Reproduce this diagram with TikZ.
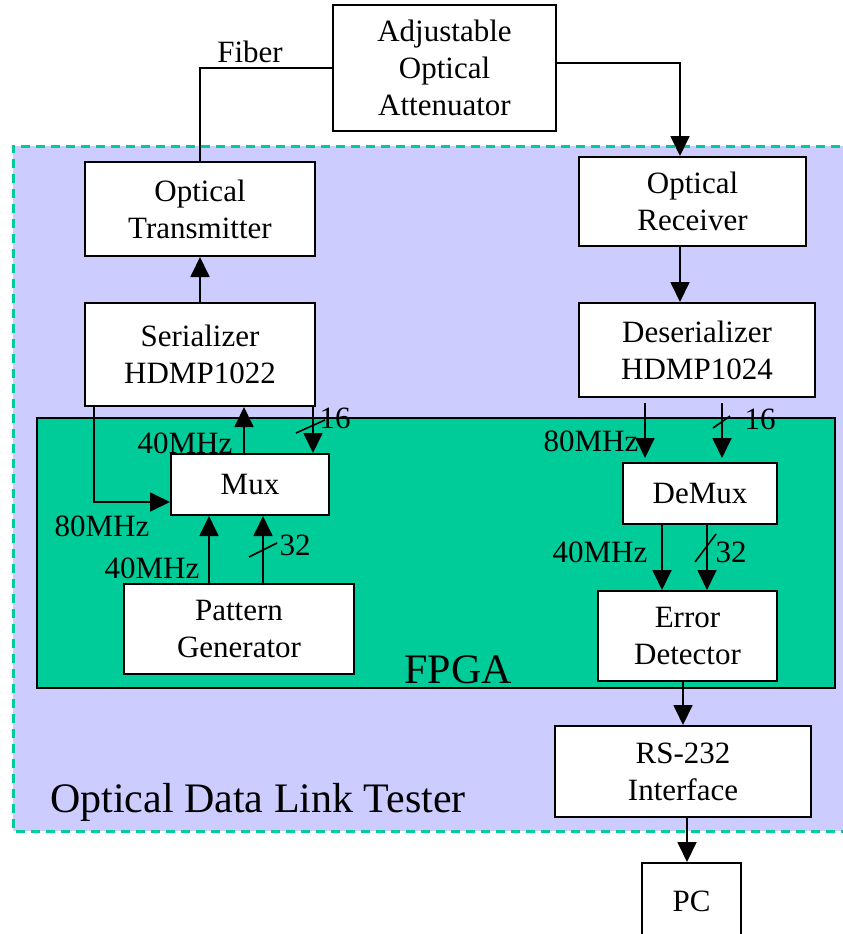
\documentclass[tikz,border=0pt]{standalone}
\usepackage{fontspec}
\setmainfont{Liberation Serif}
\usetikzlibrary{arrows.meta,calc}
\definecolor{lav}{HTML}{CCCCFF}
\definecolor{tealg}{HTML}{00CC99}
\begin{document}
\begin{tikzpicture}[x=1pt,y=-1pt,
 box/.style={draw=black,line width=2pt,fill=white,align=center,inner sep=0pt,font=\fontsize{31}{37}\selectfont},
 lbl/.style={inner sep=0pt,font=\fontsize{31}{37}\selectfont,anchor=base},
 con/.style={line width=1.8pt},
 arr/.style={con,-{Triangle[length=20pt,width=19pt]}},
 slash/.style={line width=1.6pt}
]
\useasboundingbox (0,0) rectangle (843,934);
\clip (0,0) rectangle (843,934);
% tester region
\fill[lav] (13,146) rectangle (870,831);
\draw[tealg,line width=3pt,dash pattern=on 9pt off 6pt] (870,146) -- (13,146) -- (13,831) -- (870,831);
% FPGA
\node[draw=black,line width=2pt,fill=tealg,minimum width=798,minimum height=270,inner sep=0pt] (fpga) at (436,553) {};
% boxes
\node[box,minimum width=223,minimum height=126] (att) at (444.5,68) {Adjustable\\Optical\\Attenuator};
\node[box,minimum width=230,minimum height=94] (tx) at (200,209) {Optical\\Transmitter};
\node[box,minimum width=230,minimum height=103] (ser) at (200,354.5) {Serializer\\HDMP1022};
\node[box,minimum width=227,minimum height=89] (rx) at (692.5,201.5) {Optical\\Receiver};
\node[box,minimum width=236,minimum height=94] (des) at (697,350) {Deserializer\\HDMP1024};
\node[box,minimum width=158,minimum height=61] (mux) at (250,484.5) {Mux};
\node[box,minimum width=230,minimum height=90] (pg) at (239,629) {Pattern\\Generator};
\node[box,minimum width=154,minimum height=61] (demux) at (700,493.5) {DeMux};
\node[box,minimum width=179,minimum height=90] (ed) at (687.5,636) {Error\\Detector};
\node[box,minimum width=256,minimum height=91] (rs) at (683,771.5) {RS-232\\Interface};
\node[box,minimum width=99,minimum height=84] (pc) at (691.5,905) {\raisebox{8pt}{PC}};
% connectors
\draw[con] (att.west) -| (tx.north);
\draw[arr] ($(att.east)+(0,-5)$) -| ($(rx.north)+(-12.5,0)$);
\draw[arr] ($(rx.south)+(-12.5,0)$) -- ($(des.north)+(-17,0)$);
\draw[arr] (ser.north) -- (tx.south);
\draw[arr] ($(ser.south west)+(10,0)$) |- ($(mux.west)+(0,17.5)$);
\draw[arr] ($(mux.north)+(-6,0)$) -- ($(ser.south)+(44,0)$);
\draw[arr] ($(ser.south)+(113,0)$) -- ($(mux.north)+(63,0)$);
\draw[arr] ($(pg.north)+(-30,0)$) -- ($(mux.south)+(-41,0)$);
\draw[arr] ($(pg.north)+(24,0)$) -- ($(mux.south)+(13,0)$);
\draw[arr] ($(des.south)+(-52,5)$) -- ($(demux.north)+(-55,-4)$);
\draw[arr] ($(des.south)+(25,5)$) -- ($(demux.north)+(22,-4)$);
\draw[arr] ($(demux.south)+(-38,0)$) -- ($(ed.north)+(-25.5,0)$);
\draw[arr] ($(demux.south)+(7,0)$) -- ($(ed.north)+(19.5,0)$);
\draw[arr] ($(ed.south)+(-4.5,0)$) -- (rs.north);
\draw[arr] ($(rs.south)+(4,0)$) -- ($(pc.north)+(-4.5,0)$);
% bus slashes
\draw[slash] (296,433) -- (325,420);
\draw[slash] (249,557) -- (277,543);
\draw[slash] (713,428) -- (730,416);
\draw[slash] (695,562) -- (716,534);
% labels
\node[lbl] (fiber) at (250,63) {Fiber};
\node[lbl] (f80l) at (102,536) {80MHz};
\node[lbl] (f40t) at (185,453) {40MHz};
\node[lbl] (n16l) at (335,428) {16};
\node[lbl] (f40b) at (152,578) {40MHz};
\node[lbl] (n32l) at (295,555) {32};
\node[lbl] (f80r) at (591,451) {80MHz};
\node[lbl] (n16r) at (760,429) {16};
\node[lbl] (f40r) at (600,562) {40MHz};
\node[lbl] (n32r) at (731,562) {32};
\node[lbl,font=\fontsize{42}{50}\selectfont] (fpgalbl) at (458,683) {FPGA};
\node[lbl,font=\fontsize{42}{50}\selectfont] (tester) at (258,812) {Optical Data Link Tester};
\end{tikzpicture}
\end{document}
